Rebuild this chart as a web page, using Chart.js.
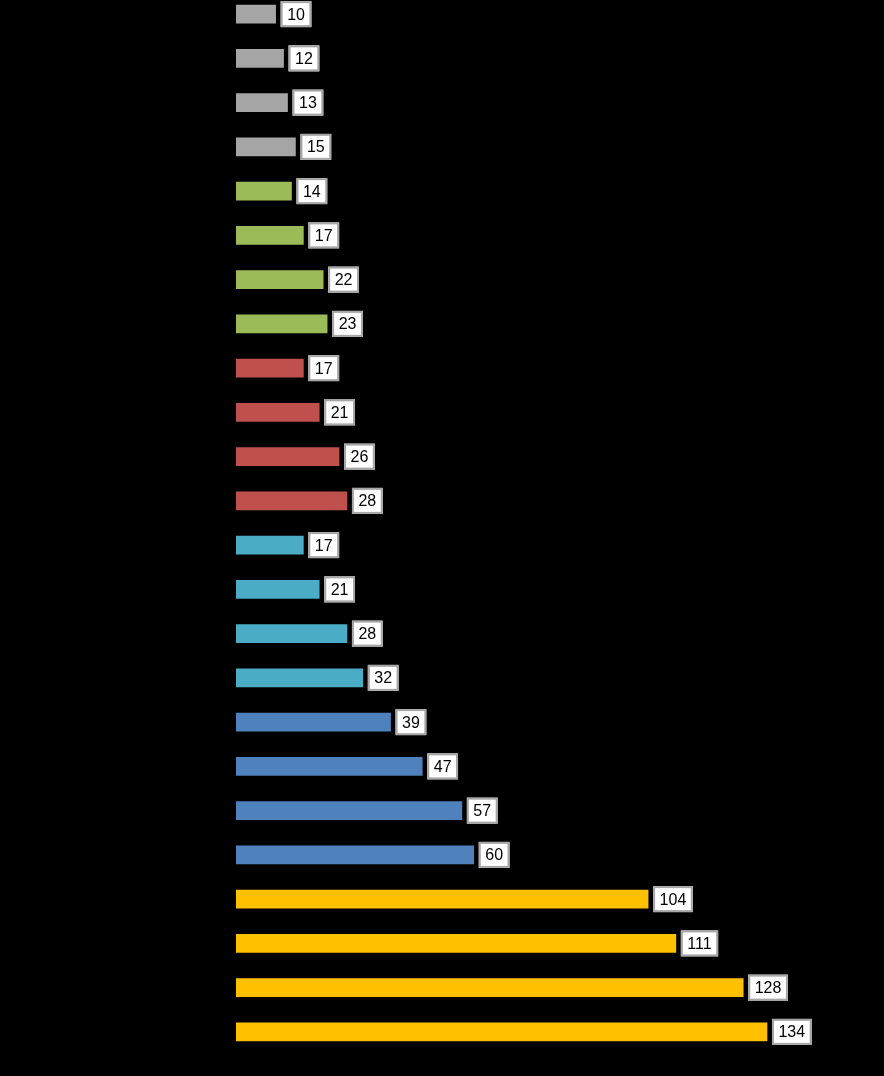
<!DOCTYPE html>
<html lang="en">
<head>
<meta charset="UTF-8">
<title>Bars</title>
<script src="https://cdn.jsdelivr.net/npm/chart.js"></script>
<style>
  html, body { margin: 0; padding: 0; background: #000; overflow: hidden; }
  .wrap { position: relative; width: 884px; height: 1076px; }
  #chart { position: absolute; left: 0; top: -8px; }
</style>
</head>
<body>
<div class="wrap">
  <canvas id="chart" width="884" height="1062"></canvas>
</div>
<script>
// values top to bottom, four bars per group
const categories = ['1', '2', '3', '4', '5', '6', '7', '8', '9', '10', '11', '12',
                    '13', '14', '15', '16', '17', '18', '19', '20', '21', '22', '23', '24'];
const values = [10, 12, 13, 15, 14, 17, 22, 23, 17, 21, 26, 28,
                17, 21, 28, 32, 39, 47, 57, 60, 104, 111, 128, 134];
const groupColors = ['#A5A5A5', '#9BBB59', '#C0504D', '#4BACC6', '#4F81BD', '#FFC000'];
const barColors = values.map((_, i) => groupColors[Math.floor(i / 4)]);

// white boxed value labels to the right of each bar
const boxLabels = {
  id: 'boxLabels',
  afterDatasetsDraw(chart) {
    const ctx = chart.ctx;
    const meta = chart.getDatasetMeta(0);
    ctx.save();
    ctx.font = '16px "Liberation Sans", Arial, sans-serif';
    ctx.textBaseline = 'middle';
    ctx.textAlign = 'center';
    meta.data.forEach((bar, i) => {
      const txt = String(values[i]);
      const w = ctx.measureText(txt).width + 13;
      const h = 26;
      const x = bar.x + 5;
      const y = bar.y - h / 2;
      ctx.fillStyle = '#fff';
      ctx.fillRect(x, y, w, h);
      ctx.strokeStyle = '#A6A6A6';
      ctx.lineWidth = 2;
      ctx.strokeRect(x + 1, y + 1, w - 2, h - 2);
      ctx.fillStyle = '#000';
      ctx.fillText(txt, x + w / 2, bar.y + 1);
    });
    ctx.restore();
  }
};

new Chart(document.getElementById('chart'), {
  type: 'bar',
  data: {
    labels: categories,
    datasets: [{
      data: values,
      backgroundColor: barColors,
      borderWidth: 0,
      barThickness: 18
    }]
  },
  options: {
    indexAxis: 'y',
    responsive: false,
    animation: false,
    layout: { padding: { left: 236, right: 14, top: 0, bottom: 0 } },
    plugins: { legend: { display: false }, tooltip: { enabled: false } },
    scales: {
      x: { display: false, min: 0, max: 160 },
      y: { display: false, grid: { display: false } }
    }
  },
  plugins: [boxLabels]
});
</script>
</body>
</html>
